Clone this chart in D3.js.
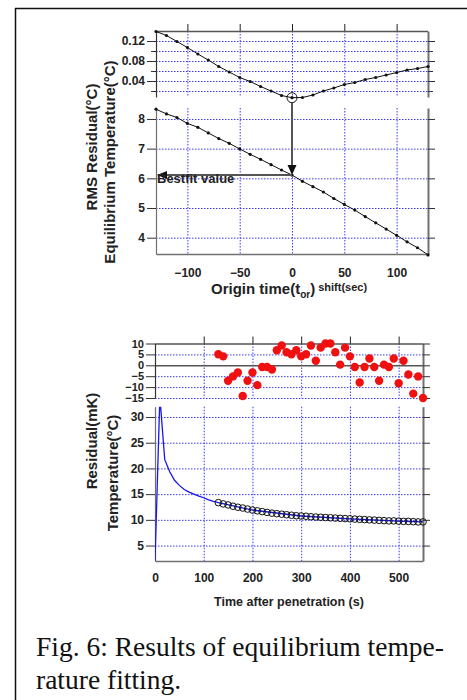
<!DOCTYPE html>
<html>
<head>
<meta charset="utf-8">
<script src="https://cdn.jsdelivr.net/npm/d3@7/dist/d3.min.js"></script>
<style>
  body { margin: 0; background: #fff; }
  svg { display: block; }
  .tick text { font-family: "Liberation Sans", Arial, sans-serif; font-weight: bold; font-size: 12px; fill: #222; }
  .res .tick text { font-size: 11px; }
  .ttl { font-family: "Liberation Sans", Arial, sans-serif; font-weight: bold; fill: #222; }
</style>
</head>
<body>
<svg id="fig" width="467" height="700"></svg>
<script>
// === DATA: origin time shift analysis ===
const shiftSec = [-130, -120, -110, -100, -90, -80, -70, -60, -50, -40, -30, -20, -10, 0,
  10, 20, 30, 40, 50, 60, 70, 80, 90, 100, 110, 120, 130];
const rmsResidual = [0.139, 0.131, 0.119, 0.107, 0.094, 0.082, 0.069, 0.058, 0.047, 0.039, 0.029, 0.020, 0.011, 0.0066,
  0.007, 0.012, 0.020, 0.026, 0.033, 0.037, 0.043, 0.047, 0.052, 0.057, 0.062, 0.065, 0.069];
const eqTemperature = [8.33, 8.17, 8.05, 7.85, 7.72, 7.53, 7.34, 7.18, 6.99, 6.81, 6.64, 6.46, 6.28, 6.11,
  5.90, 5.72, 5.54, 5.32, 5.12, 4.93, 4.71, 4.50, 4.29, 4.08, 3.86, 3.66, 3.42];
const bestShift = 0;
const bestRms = 0.0066;
const bestTemp = 6.11;

// === DATA: temperature after penetration ===
const measTime = [0, 10, 20, 30, 40, 50, 60, 70, 80, 90, 100, 110, 120, 130, 200, 300, 400, 500, 550];
const measTemp = [2.0, 33.9, 21.7, 19.4, 17.7, 16.7, 15.9, 15.4, 15.0, 14.6, 14.3, 13.9, 13.6, 13.35, 11.9, 10.75, 10.2, 9.75, 9.6];

const fitTime = [130, 140, 150, 160, 170, 180, 190, 200, 210, 220, 230, 240, 250, 260, 270, 280, 290, 300,
  310, 320, 330, 340, 350, 360, 370, 380, 390, 400, 410, 420, 430, 440, 450, 460, 470, 480, 490, 500,
  510, 520, 530, 540, 550];
const fitTemp = [13.35, 13.1, 12.9, 12.65, 12.45, 12.3, 12.1, 11.9, 11.75, 11.6, 11.45, 11.3, 11.2, 11.1, 11.0, 10.9, 10.8, 10.75,
  10.7, 10.6, 10.55, 10.5, 10.45, 10.4, 10.35, 10.3, 10.25, 10.2, 10.15, 10.1, 10.05, 10.0, 9.95, 9.9, 9.85, 9.8, 9.8, 9.75,
  9.7, 9.7, 9.65, 9.6, 9.6];
const residualMk = [5.1, 4.1, -7.1, -5.1, -3.3, -14.1, -7.1, -3.3, -9.1, -0.8, -0.8, -1.9, 6.9, 9.1, 6.0, 5.1, 6.9, 4.1,
  5.1, 9.1, 2.1, 8.1, 10.0, 10.0, 6.0, 0.3, 8.1, 4.1, -0.8, -7.9, -0.8, 3.1, -0.8, -7.1, 0.3, -0.8, 3.1, -8.2,
  2.1, -4.2, -13.0, -5.1, -15.0];

// === tick values ===
const shiftTicks = [-100, -50, 0, 50, 100];
const rmsTicks = [0.04, 0.08, 0.12];
const rmsMinor = [0.02, 0.06, 0.10];
const eqTicks = [4, 5, 6, 7, 8];
const timeTicks = [0, 100, 200, 300, 400, 500];
const resTicks = [-15, -10, -5, 0, 5, 10];
const tempTicks = [5, 10, 15, 20, 25, 30];

const svg = d3.select("#fig");
const gridBlue = "#3b3bf5";
const axisGray = "#707070";

// === outer frame ===
svg.append("line").attr("x1", 15.5).attr("x2", 15.5).attr("y1", 8).attr("y2", 700).attr("stroke", "#111").attr("stroke-width", 1.5);
svg.append("line").attr("x1", 15).attr("x2", 467).attr("y1", 8.5).attr("y2", 8.5).attr("stroke", "#111").attr("stroke-width", 1.5);

// === helper: draws one panel (grid, left axis, right axis, optional top ticks) ===
function drawPanel(xScale, yScale, opt) {
  const g = svg.append("g").attr("class", opt.cls || "");
  const [x0, x1] = xScale.range();
  const [yb, yt] = yScale.range();

  // grid
  g.selectAll(null).data(opt.hGrid).join("line")
    .attr("x1", x0).attr("x2", x1)
    .attr("y1", d => yScale(d) + 0.5).attr("y2", d => yScale(d) + 0.5)
    .attr("stroke", gridBlue).attr("stroke-width", 1).attr("stroke-dasharray", "1.5,1.5");
  g.selectAll(null).data(opt.vGrid).join("line")
    .attr("x1", d => xScale(d) + 0.5).attr("x2", d => xScale(d) + 0.5)
    .attr("y1", yt).attr("y2", yb)
    .attr("stroke", gridBlue).attr("stroke-width", 1).attr("stroke-dasharray", "1.5,1.5");

  // solid horizontal lines (frames / zero line)
  (opt.solid || []).forEach(v => {
    g.append("line").attr("x1", x0).attr("x2", x1)
      .attr("y1", yScale(v) + 0.5).attr("y2", yScale(v) + 0.5)
      .attr("stroke", "#555").attr("stroke-width", 1.5);
  });

  // left axis
  const left = g.append("g").attr("transform", `translate(${x0},0)`)
    .call(d3.axisLeft(yScale).tickValues(opt.yTicks).tickSize(9).tickSizeOuter(0).tickPadding(2).tickFormat(opt.fmt));
  left.select(".domain").attr("stroke", opt.leftColor || "#333").attr("stroke-width", 1.2);
  left.selectAll(".tick line").attr("stroke", "#333");
  if (opt.yMinor) {
    g.selectAll(null).data(opt.yMinor).join("line")
      .attr("x1", x0 - 5).attr("x2", x0)
      .attr("y1", d => yScale(d) + 0.5).attr("y2", d => yScale(d) + 0.5)
      .attr("stroke", "#333");
  }

  // right axis (gray, ticks outside)
  const right = g.append("g").attr("transform", `translate(${x1},0)`)
    .call(d3.axisRight(yScale).tickValues(opt.yTicks).tickSize(7).tickSizeOuter(0).tickFormat(""));
  right.select(".domain").attr("stroke", axisGray).attr("stroke-width", 2);
  right.selectAll(".tick line").attr("stroke", "#333");
  if (opt.yMinor) {
    g.selectAll(null).data(opt.yMinor).join("line")
      .attr("x1", x1).attr("x2", x1 + 5)
      .attr("y1", d => yScale(d) + 0.5).attr("y2", d => yScale(d) + 0.5)
      .attr("stroke", "#333");
  }

  // top ticks
  if (opt.topTicks) {
    g.selectAll(null).data(opt.topTicks).join("line")
      .attr("x1", d => xScale(d) + 0.5).attr("x2", d => xScale(d) + 0.5)
      .attr("y1", yt - 7).attr("y2", yt)
      .attr("stroke", "#222");
  }

  // bottom axis with labels
  if (opt.bottom) {
    const bottom = g.append("g").attr("transform", `translate(0,${yb})`)
      .call(d3.axisBottom(xScale).tickValues(opt.bottom).tickSize(0).tickPadding(opt.pad).tickSizeOuter(0));
    bottom.select(".domain").attr("stroke", axisGray).attr("stroke-width", 1.5);
  }
  return g;
}

// ========================= UPPER FIGURE =========================
const xShift = d3.scaleLinear().domain([-130, 130]).range([156, 428]);
const yRms = d3.scaleLinear().domain([0.008, 0.14]).range([97, 31]);
const yEq = d3.scaleLinear().domain([3.45, 8.37]).range([254, 108]);

drawPanel(xShift, yRms, {
  hGrid: [0.02, 0.04, 0.06, 0.08, 0.10, 0.12],
  vGrid: shiftTicks, solid: [0.14],
  yTicks: rmsTicks, yMinor: rmsMinor, fmt: d3.format(".2f"),
  topTicks: shiftTicks
});
drawPanel(xShift, yEq, {
  hGrid: eqTicks, vGrid: shiftTicks,
  yTicks: eqTicks, fmt: d3.format("d"), leftColor: axisGray,
  bottom: shiftTicks, pad: 14
});

const rmsLine = d3.line().x((d, i) => xShift(shiftSec[i])).y(d => yRms(d));
const eqLine = d3.line().x((d, i) => xShift(shiftSec[i])).y(d => yEq(d));

svg.append("path").attr("d", rmsLine(rmsResidual)).attr("fill", "none").attr("stroke", "#111").attr("stroke-width", 1);
svg.append("path").attr("d", eqLine(eqTemperature)).attr("fill", "none").attr("stroke", "#111").attr("stroke-width", 1);
svg.selectAll(".rmsdot").data(rmsResidual).join("circle").attr("class", "rmsdot")
  .attr("cx", (d, i) => xShift(shiftSec[i])).attr("cy", d => yRms(d)).attr("r", 1.6).attr("fill", "#111");
svg.selectAll(".eqdot").data(eqTemperature).join("circle").attr("class", "eqdot")
  .attr("cx", (d, i) => xShift(shiftSec[i])).attr("cy", d => yEq(d)).attr("r", 1.6).attr("fill", "#111");

// === best fit marker and arrows ===
svg.append("circle").attr("cx", xShift(bestShift)).attr("cy", yRms(bestRms)).attr("r", 5)
  .attr("fill", "none").attr("stroke", "#111").attr("stroke-width", 1);
const bx = xShift(bestShift), by = yEq(bestTemp);
svg.append("line").attr("x1", bx).attr("x2", bx).attr("y1", yRms(bestRms) + 5).attr("y2", by - 8)
  .attr("stroke", "#555").attr("stroke-width", 2);
svg.append("path").attr("d", `M${bx - 4.5},${by - 10} L${bx + 4.5},${by - 10} L${bx},${by} Z`).attr("fill", "#111");
svg.append("line").attr("x1", xShift.range()[0] + 9).attr("x2", bx).attr("y1", by).attr("y2", by)
  .attr("stroke", "#555").attr("stroke-width", 2);
svg.append("path").attr("d", `M${xShift.range()[0] + 1},${by} L${xShift.range()[0] + 11},${by - 4} L${xShift.range()[0] + 11},${by + 4} Z`).attr("fill", "#111");
svg.append("text").attr("class", "ttl").attr("x", 157).attr("y", by + 8).attr("font-size", "13px").text("Bestfit value");

// === titles upper ===
svg.append("text").attr("class", "ttl").attr("font-size", "15px").attr("text-anchor", "middle")
  .attr("transform", "translate(97,147) rotate(-90)").text("RMS Residual(°C)");
svg.append("text").attr("class", "ttl").attr("font-size", "15px").attr("text-anchor", "middle")
  .attr("transform", "translate(115,162) rotate(-90)").text("Equilibrium Temperature(°C)");

const xt = svg.append("text").attr("class", "ttl").attr("x", 211).attr("y", 294).attr("font-size", "15px");
xt.append("tspan").text("Origin time(t");
xt.append("tspan").attr("font-size", "10px").attr("dy", 4).text("or");
xt.append("tspan").attr("dy", -4).text(")");
xt.append("tspan").attr("font-size", "11px").attr("dy", -3).text(" shift(sec)");

// ========================= LOWER FIGURE =========================
const xTime = d3.scaleLinear().domain([0, 550]).range([155, 423]);
const yRes = d3.scaleLinear().domain([-15, 10]).range([398, 343.5]);
const yTemp = d3.scaleLinear().domain([2, 32]).range([561, 406.7]);

drawPanel(xTime, yRes, {
  cls: "res",
  hGrid: [-15, -10, -5, 5], vGrid: [100, 200, 300, 400, 500], solid: [0, 10],
  yTicks: resTicks, fmt: d3.format("d"), topTicks: [100, 200, 300, 400, 500]
});
drawPanel(xTime, yTemp, {
  hGrid: tempTicks, vGrid: [100, 200, 300, 400, 500],
  yTicks: tempTicks, fmt: d3.format("d"), leftColor: axisGray,
  bottom: timeTicks, pad: 12
});

svg.append("clipPath").attr("id", "tclip").append("rect")
  .attr("x", 155).attr("y", 406.7).attr("width", 268).attr("height", 154.3);

const tLine = d3.line().x((d, i) => xTime(measTime[i])).y(d => yTemp(d));
svg.append("path").attr("d", tLine(measTemp)).attr("clip-path", "url(#tclip)")
  .attr("fill", "none").attr("stroke", "#1616f0").attr("stroke-width", 1.3);
svg.selectAll(".fitc").data(fitTemp).join("circle").attr("class", "fitc")
  .attr("cx", (d, i) => xTime(fitTime[i])).attr("cy", d => yTemp(d)).attr("r", 3.3)
  .attr("fill", "none").attr("stroke", "#111").attr("stroke-width", 1);
svg.selectAll(".resd").data(residualMk).join("circle").attr("class", "resd")
  .attr("cx", (d, i) => xTime(fitTime[i])).attr("cy", d => yRes(d)).attr("r", 4.2)
  .attr("fill", "#f01010");

// === titles lower ===
svg.append("text").attr("class", "ttl").attr("font-size", "15px").attr("text-anchor", "middle")
  .attr("transform", "translate(97,441) rotate(-90)").text("Residual(mK)");
svg.append("text").attr("class", "ttl").attr("font-size", "15px").attr("text-anchor", "middle")
  .attr("transform", "translate(118,473) rotate(-90)").text("Temperature(°C)");
svg.append("text").attr("class", "ttl").attr("font-size", "12.5px").attr("text-anchor", "middle")
  .attr("x", 289).attr("y", 606).text("Time after penetration (s)");

// === caption ===
const cap = svg.append("text").attr("font-family", "'Liberation Serif', 'Times New Roman', serif")
  .attr("font-size", "27.5px").attr("fill", "#111");
cap.append("tspan").attr("x", 36).attr("y", 656).text("Fig. 6: Results of equilibrium tempe-");
cap.append("tspan").attr("x", 36).attr("y", 689).text("rature fitting.");
</script>
</body>
</html>
